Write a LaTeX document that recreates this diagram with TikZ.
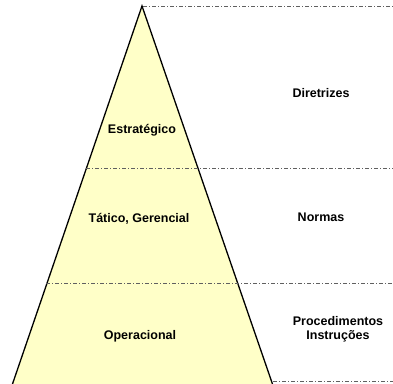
\documentclass[tikz,border=0pt]{standalone}
\usepackage{fontspec}
\setmainfont{Liberation Sans}
\definecolor{pyrfill}{HTML}{FFFFC8}
\definecolor{guide}{HTML}{606060}
\begin{document}
\begin{tikzpicture}[x=1pt,y=-1pt,
  guideline/.style={draw=guide, line width=0.7pt, dash pattern=on 4pt off 2pt on 1pt off 2pt},
  lbl/.style={font=\bfseries\fontsize{12.5}{14}\selectfont, inner sep=0pt, align=center}]
\useasboundingbox (0,0) rectangle (393,383);
\coordinate (apex) at (142,6);
\coordinate (bl) at (7,400);
\coordinate (br) at (278,400);
\filldraw[fill=pyrfill, draw=black, line width=1.3pt, line join=miter] (bl) -- (apex) -- (br);
% guide lines
\coordinate (g1a) at (143,6);   \coordinate (g1b) at (393,6);
\coordinate (g2a) at (86,168);  \coordinate (g2b) at (393,168);
\coordinate (g3a) at (46,283);  \coordinate (g3b) at (393,283);
\coordinate (g4a) at (273,381); \coordinate (g4b) at (393,381);
\draw[guideline] (g1a) -- (g1b);
\draw[guideline] (g2a) -- (g2b);
\draw[guideline] (g3a) -- (g3b);
\draw[guideline] (g4a) -- (g4b);
% labels
\node[lbl] (estr) at (142,130) {Estratégico};
\node[lbl] (tat) at (139,219) {Tático, Gerencial};
\node[lbl] (oper) at (140,336) {Operacional};
\node[lbl] (dir) at (321,93) {Diretrizes};
\node[lbl] (norm) at (321,217) {Normas};
\node[lbl] (proc) at (338,329) {Procedimentos\\Instruções};
\end{tikzpicture}
\end{document}
